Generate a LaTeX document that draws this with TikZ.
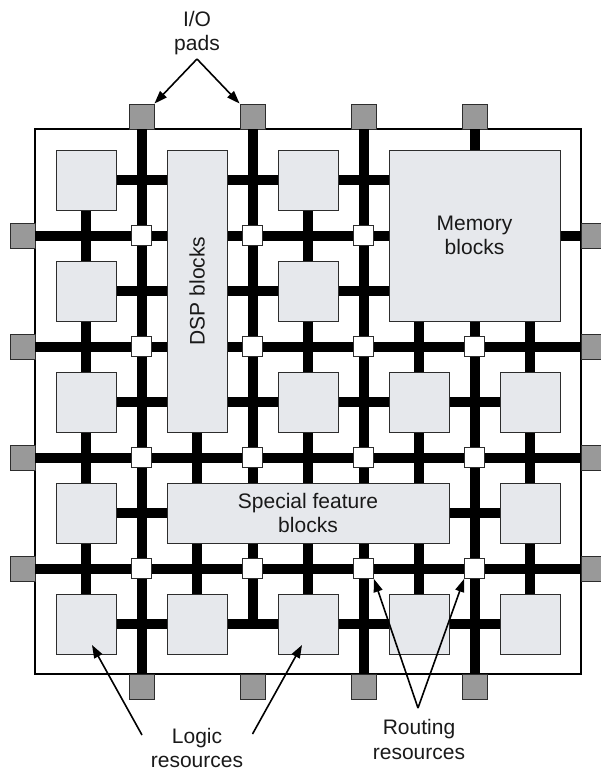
\documentclass[tikz,border=0pt]{standalone}
\usepackage{fontspec}
\setmainfont{Liberation Sans}
\usetikzlibrary{arrows.meta}
\definecolor{blockfill}{RGB}{230,232,236}
\definecolor{padfill}{RGB}{153,153,153}
\definecolor{edgegray}{RGB}{45,45,45}
\definecolor{labeltext}{RGB}{25,25,25}

\begin{document}
\begin{tikzpicture}[x=1pt,y=-1pt,
  chip/.style={draw=black, line width=2pt, fill=white},
  wire/.style={line width=10pt, black},
  pad/.style={draw=edgegray, line width=0.9pt, fill=padfill, minimum width=25pt, minimum height=25pt, inner sep=0pt},
  lblock/.style={draw=edgegray, line width=0.9pt, fill=blockfill, minimum width=60pt, minimum height=60pt, inner sep=0pt},
  bigblock/.style={draw=edgegray, line width=0.9pt, fill=blockfill, inner sep=0pt, align=center, text=labeltext, font=\fontsize{21}{24}\selectfont},
  switchbox/.style={draw=edgegray, line width=0.9pt, fill=white, minimum width=20pt, minimum height=20pt, inner sep=0pt},
  caption/.style={anchor=base, text=labeltext, inner sep=0pt, font=\fontsize{21}{24}\selectfont},
  pointer/.style={line width=1.6pt, black, -{Triangle[length=13pt,width=9pt]}}]

\useasboundingbox (0,0) rectangle (600,771);

% die outline
\draw[chip] (35,129) rectangle (581,674);

% grid points: block centres (columns/rows)
\foreach \i/\x in {1/86,2/197,3/308,4/419,5/530}
  \foreach \j/\y in {1/180,2/291,3/402,4/513,5/624}
    \coordinate (g-\i-\j) at (\x,\y);

% I/O pads around the die
\foreach \i/\x in {1/141.5,2/252.5,3/363.5,4/474.5} {
  \node[pad] (tp\i) at (\x,116.5) {};
  \node[pad] (bp\i) at (\x,686.5) {};
}
\foreach \j/\y in {1/235.5,2/346.5,3/457.5,4/568.5} {
  \node[pad] (lp\j) at (22.5,\y) {};
  \node[pad] (rp\j) at (593.5,\y) {};
}

% global routing channels
\draw[wire] (tp1.south) -- (bp1.north);
\coordinate (v2end) at (252.5,624);
\draw[wire] (tp2.south) -- (v2end);
\draw[wire] (tp3.south) -- (bp3.north);
\draw[wire] (tp4.south) -- (bp4.north);
\foreach \j in {1,2,3,4}
  \draw[wire] (lp\j.east) -- (rp\j.west);

% local connections between neighbouring blocks
\foreach \j in {1,2,3,4,5}
  \draw[wire] (g-1-\j) -- (g-5-\j);
\foreach \i in {1,2,3,4,5}
  \draw[wire] (g-\i-1) -- (g-\i-5);

% switch boxes at channel crossings
\foreach \i/\x in {1/141.5,2/252.5,3/363.5,4/474.5}
  \foreach \j/\y in {1/235.5,2/346.5,3/457.5,4/568.5}
    \node[switchbox] (s-\i-\j) at (\x,\y) {};

% logic blocks
\foreach \p in {1-1,3-1,1-2,3-2,1-3,3-3,4-3,5-3,1-4,5-4,1-5,2-5,3-5,4-5,5-5}
  \node[lblock] (b-\p) at (g-\p) {};

% dedicated blocks
\node[bigblock, minimum width=60pt, minimum height=282pt] (dsp) at (197,291) {};
\node[text=labeltext, font=\fontsize{21}{24}\selectfont, rotate=90, inner sep=0pt] (dsptext) at (dsp.center) {DSP blocks};
\node[bigblock, minimum width=171pt, minimum height=171pt] (mem) at (474.5,235.5) {Memory\\blocks};
\node[bigblock, minimum width=282pt, minimum height=60pt] (spec) at (308,513) {Special feature\\blocks};

% annotations
\node[caption] (io1) at (197,27) {I/O};
\node[caption] (io2) at (197,50) {pads};
\coordinate (ioapex) at (197,59);
\draw[pointer] (ioapex) -- (tp1.north east);
\draw[pointer] (ioapex) -- (tp2.north west);

\node[caption] (logic1) at (197,743) {Logic};
\node[caption] (logic2) at (197,767) {resources};
\coordinate (logicleft) at (142,735);
\coordinate (logicright) at (252.5,734);
\draw[pointer] (logicleft) -- ([shift={(6,21)}]b-1-5.center);
\draw[pointer] (logicright) -- ([shift={(-6,21)}]b-3-5.center);

\node[caption] (route1) at (419,734) {Routing};
\node[caption] (route2) at (419,759) {resources};
\coordinate (routeapex) at (418,708);
\draw[pointer] (routeapex) -- (s-3-4.south east);
\draw[pointer] (routeapex) -- (s-4-4.south west);
\end{tikzpicture}
\end{document}
